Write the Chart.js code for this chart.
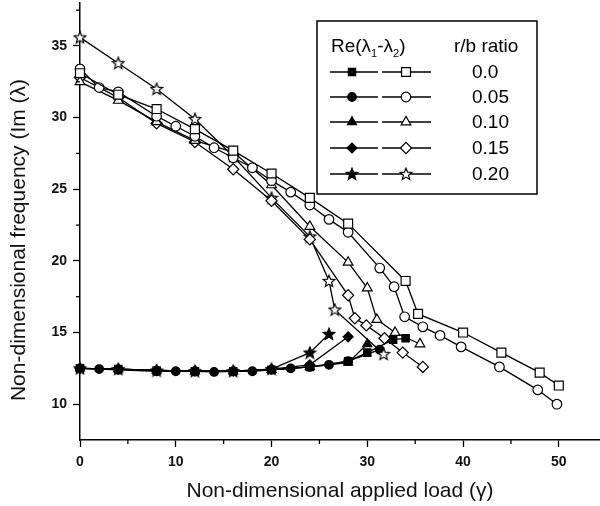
<!DOCTYPE html>
<html>
<head>
<meta charset="utf-8">
<script src="https://cdn.jsdelivr.net/npm/chart.js@4.4.0/dist/chart.umd.min.js"></script>
<style>
  html, body { margin: 0; padding: 0; background: #fff; }
  #wrap { width: 600px; height: 506px; }
</style>
</head>
<body>
<div id="wrap"><canvas id="freqChart" width="600" height="506"></canvas></div>
<script>
// r/b ratios shown in the legend
const rbLabels = ["0.0", "0.05", "0.10", "0.15", "0.20"];

// upper branch (open markers), load vs frequency
const sqUpX = [0, 4, 8, 12, 16, 20, 24, 28, 34, 35.3, 40, 44, 48, 50];
const sqUpY = [33.1, 31.6, 30.6, 29.2, 27.7, 26.1, 24.4, 22.6, 18.6, 16.3, 15.0, 13.6, 12.2, 11.3];
const ciUpX = [0, 2, 4, 8, 10, 12, 14, 16, 18, 20, 22, 24, 26, 28, 31.3, 32.8, 33.9, 35.8, 37.6, 39.8, 43.8, 47.8, 49.8];
const ciUpY = [33.4, 32.1, 31.8, 30.1, 29.4, 28.7, 27.9, 27.2, 26.5, 25.6, 24.8, 23.9, 22.9, 22.0, 19.5, 18.2, 16.1, 15.4, 14.8, 14.0, 12.6, 11.0, 10.0];
const trUpX = [0, 4, 8, 12, 16, 20, 24, 28, 30, 31, 32.9, 35.5];
const trUpY = [32.5, 31.2, 29.7, 28.4, 27.6, 25.3, 22.4, 19.9, 18.1, 15.9, 15.0, 14.2];
const diUpX = [0, 4, 8, 12, 16, 20, 24, 28, 28.7, 29.9, 31.8, 33.7, 35.8];
const diUpY = [32.8, 31.4, 29.6, 28.3, 26.4, 24.2, 21.5, 17.6, 16.0, 15.5, 14.6, 13.6, 12.6];
const stUpX = [0, 4, 8, 12, 16, 20, 24, 26, 26.6, 31.7];
const stUpY = [35.6, 33.8, 32.0, 29.9, 27.3, 24.4, 21.7, 18.6, 16.6, 13.5];

// lower branch (filled markers)
const sqLoX = [0, 4, 8, 12, 16, 20, 24, 28, 30, 32.7, 34];
const sqLoY = [12.5, 12.45, 12.35, 12.3, 12.3, 12.4, 12.6, 13.0, 13.6, 14.5, 14.6];
const ciLoX = [0, 2, 4, 8, 10, 12, 14, 16, 18, 20, 22, 24, 26, 28, 31.3];
const ciLoY = [12.5, 12.45, 12.4, 12.3, 12.3, 12.3, 12.25, 12.3, 12.3, 12.4, 12.5, 12.6, 12.75, 13.0, 13.8];
const trLoX = [0, 4, 8, 12, 16, 20, 24, 28, 30];
const trLoY = [12.5, 12.45, 12.35, 12.3, 12.3, 12.4, 12.6, 12.9, 14.2];
const diLoX = [0, 4, 8, 12, 16, 20, 24, 28];
const diLoY = [12.5, 12.45, 12.35, 12.3, 12.3, 12.45, 12.75, 14.7];
const stLoX = [0, 4, 8, 12, 16, 20, 24, 26];
const stLoY = [12.5, 12.45, 12.35, 12.3, 12.3, 12.45, 13.6, 14.9];

// axis ticks
const xMinor = [5, 15, 25, 35, 45];
const yMinor = [12.5, 17.5, 22.5, 27.5, 32.5, 37.5];

const FONT = "'Liberation Sans', Arial, sans-serif";
const Y_TITLE = "Non-dimensional frequency (Im (λ)";

function makeStar(filled) {
  const c = document.createElement("canvas");
  c.width = 14; c.height = 14;
  const g = c.getContext("2d");
  g.beginPath();
  for (let i = 0; i < 10; i++) {
    const r = i % 2 === 0 ? 6.2 : 2.7;
    const a = -Math.PI / 2 + i * Math.PI / 5;
    const px = 7 + r * Math.cos(a), py = 7.4 + r * Math.sin(a);
    if (i === 0) g.moveTo(px, py); else g.lineTo(px, py);
  }
  g.closePath();
  g.fillStyle = filled ? "#000" : "#fff";
  g.fill();
  g.strokeStyle = "#000";
  g.lineWidth = 1.2;
  g.stroke();
  return c;
}
const starOpen = makeStar(false);
const starFull = makeStar(true);

function pts(xs, ys) {
  return xs.map((x, i) => ({ x: x, y: ys[i] }));
}

// marker style per r/b row: [filled, open]
const markers = [
  [{ style: "rect", r: 5.2 }, { style: "rect", r: 6.3 }],
  [{ style: "circle", r: 4.3 }, { style: "circle", r: 4.8 }],
  [{ style: "triangle", r: 5.2 }, { style: "triangle", r: 5.6 }],
  [{ style: "rectRot", r: 5.0 }, { style: "rectRot", r: 5.6 }],
  [{ style: starFull, r: 6 }, { style: starOpen, r: 6 }]
];

function series(xs, ys, m, open) {
  return {
    data: pts(xs, ys),
    showLine: true,
    borderColor: "#000",
    borderWidth: 1.3,
    pointStyle: m.style,
    pointRadius: m.r,
    pointBorderColor: "#000",
    pointBackgroundColor: open ? "#fff" : "#000",
    pointBorderWidth: 1.2,
    clip: 10
  };
}

const datasets = [
  series(sqUpX, sqUpY, markers[0][1], true),
  series(ciUpX, ciUpY, markers[1][1], true),
  series(trUpX, trUpY, markers[2][1], true),
  series(diUpX, diUpY, markers[3][1], true),
  series(stUpX, stUpY, markers[4][1], true),
  series(sqLoX, sqLoY, markers[0][0], false),
  series(ciLoX, ciLoY, markers[1][0], false),
  series(trLoX, trLoY, markers[2][0], false),
  series(diLoX, diLoY, markers[3][0], false),
  series(stLoX, stLoY, markers[4][0], false)
];

const minorTicks = {
  id: "minorTicks",
  afterDraw(chart) {
    const { ctx, chartArea } = chart;
    const x = chart.scales.x, y = chart.scales.y;
    ctx.save();
    ctx.strokeStyle = "#000";
    ctx.lineWidth = 1.3;
    xMinor.forEach(v => {
      const px = x.getPixelForValue(v);
      ctx.beginPath();
      ctx.moveTo(px, chartArea.bottom);
      ctx.lineTo(px, chartArea.bottom + 4);
      ctx.stroke();
    });
    yMinor.forEach(v => {
      const py = y.getPixelForValue(v);
      ctx.beginPath();
      ctx.moveTo(chartArea.left, py);
      ctx.lineTo(chartArea.left - 4, py);
      ctx.stroke();
    });
    // y title, placed a little below the plot centre like the original
    ctx.fillStyle = "#111";
    ctx.font = "21px " + FONT;
    ctx.textAlign = "center";
    ctx.textBaseline = "middle";
    ctx.translate(19, 240);
    ctx.rotate(-Math.PI / 2);
    ctx.fillText(Y_TITLE, 0, 0);
    ctx.restore();
  }
};

// two-column legend box (filled / open markers, r/b ratio)
const legendBox = {
  id: "legendBox",
  afterDraw(chart) {
    const ctx = chart.ctx;
    const bx = 317, by = 21, bw = 220, bh = 173;
    ctx.save();
    ctx.fillStyle = "#fff";
    ctx.fillRect(bx, by, bw, bh);
    ctx.strokeStyle = "#000";
    ctx.lineWidth = 1.5;
    ctx.strokeRect(bx, by, bw, bh);

    // header
    ctx.fillStyle = "#000";
    ctx.textBaseline = "alphabetic";
    ctx.textAlign = "left";
    const big = "19px " + FONT, small = "11px " + FONT;
    let tx = 331;
    const ty = 52;
    const parts = [["Re(λ", big, 0], ["1", small, 5], ["-λ", big, 0], ["2", small, 5], [")", big, 0]];
    parts.forEach(p => {
      ctx.font = p[1];
      ctx.fillText(p[0], tx, ty + p[2]);
      tx += ctx.measureText(p[0]).width;
    });
    ctx.font = big;
    ctx.fillText("r/b ratio", 454, ty);

    const rowY = [72, 97, 122, 148, 174];
    rbLabels.forEach((lab, i) => {
      const yy = rowY[i];
      ctx.strokeStyle = "#000";
      ctx.lineWidth = 1.3;
      ctx.beginPath();
      ctx.moveTo(330, yy); ctx.lineTo(378, yy);
      ctx.moveTo(382, yy); ctx.lineTo(431, yy);
      ctx.stroke();
      [[352, markers[i][0], "#000"], [406, markers[i][1], "#fff"]].forEach(m => {
        ctx.fillStyle = m[2];
        ctx.strokeStyle = "#000";
        ctx.lineWidth = 1.2;
        Chart.helpers.drawPoint(ctx, { pointStyle: m[1].style, radius: m[1].r, rotation: 0, borderWidth: 1.2 }, m[0], yy);
      });
      ctx.fillStyle = "#000";
      ctx.font = big;
      ctx.textBaseline = "middle";
      ctx.fillText(lab, 472, yy + 1);
      ctx.textBaseline = "alphabetic";
    });
    ctx.restore();
  }
};

new Chart(document.getElementById("freqChart").getContext("2d"), {
  type: "scatter",
  data: { datasets: datasets },
  options: {
    responsive: false,
    animation: false,
    layout: { autoPadding: false, padding: { top: 3, right: 0, left: 0, bottom: 0 } },
    plugins: { legend: { display: false }, tooltip: { enabled: false } },
    scales: {
      x: {
        type: "linear",
        min: 0,
        max: 54.3,
        ticks: {
          stepSize: 10,
          includeBounds: false,
          padding: 7,
          color: "#111",
          font: { family: FONT, size: 14, weight: "bold" }
        },
        grid: { drawOnChartArea: false, tickLength: 7, tickColor: "#000", tickWidth: 1.3 },
        border: { color: "#000", width: 1.5 },
        title: {
          display: true,
          text: "Non-dimensional applied load (γ)",
          color: "#111",
          font: { family: FONT, size: 21 },
          padding: { top: 0, bottom: 2 }
        },
        afterFit(s) { s.height = 66; s.paddingLeft = 0; s.paddingRight = 0; }
      },
      y: {
        type: "linear",
        min: 7.5,
        max: 38,
        ticks: {
          stepSize: 5,
          includeBounds: false,
          padding: 6,
          color: "#111",
          font: { family: FONT, size: 14, weight: "bold" }
        },
        grid: { drawOnChartArea: false, tickLength: 7, tickColor: "#000", tickWidth: 1.3 },
        border: { color: "#000", width: 1.5 },
        title: { display: false },
        afterFit(s) {
          s.width = 80;
          s.paddingTop = 0;
          s.paddingBottom = 0;
          if (s._margins) { s._margins.top = 0; s._margins.bottom = 0; }
        }
      }
    }
  },
  plugins: [minorTicks, legendBox]
});
</script>
</body>
</html>
